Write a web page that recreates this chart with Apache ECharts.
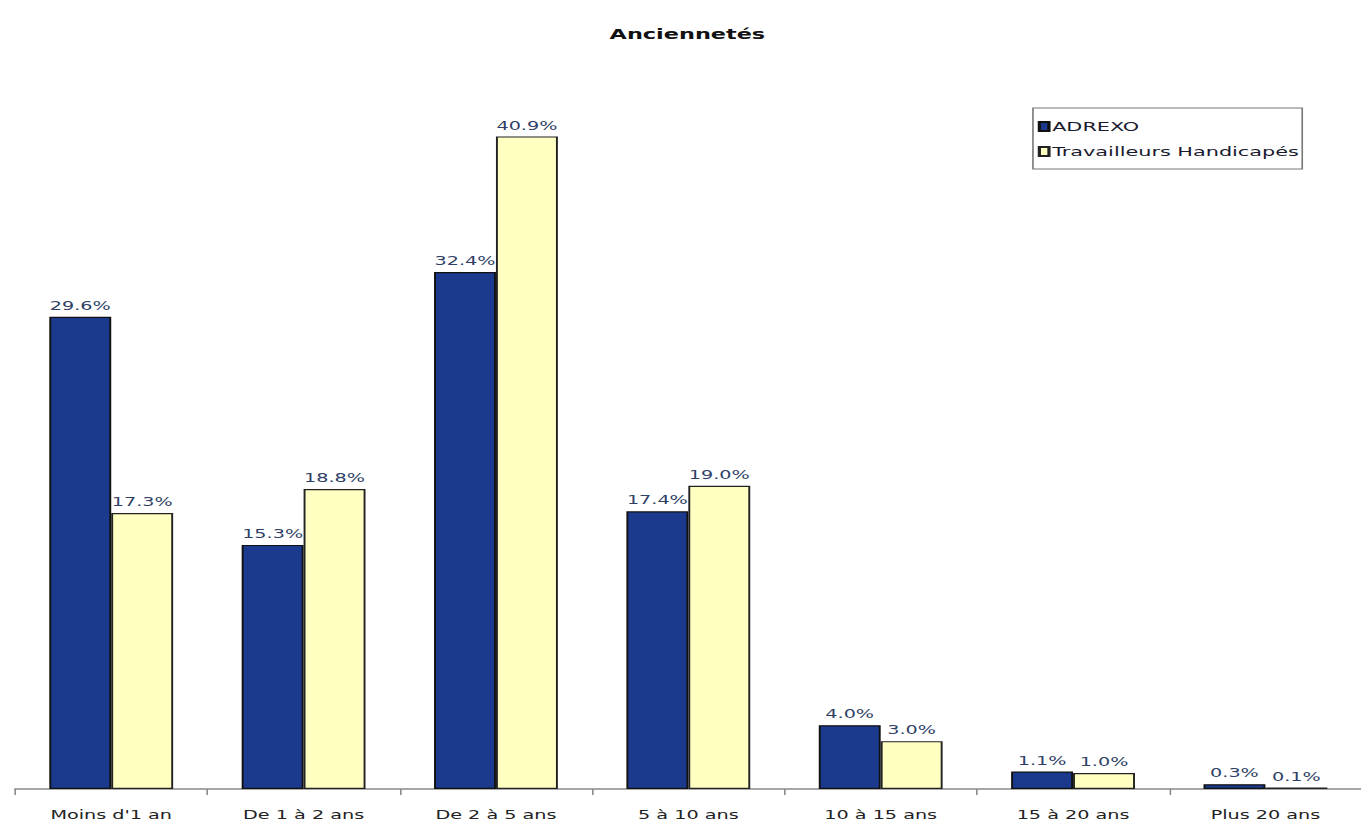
<!DOCTYPE html>
<html>
<head>
<meta charset="utf-8">
<script src="https://cdn.jsdelivr.net/npm/echarts@6/dist/echarts.min.js"></script>
<style>
  html, body { margin: 0; padding: 0; background: #fff; overflow: hidden; }
  /* the scanned original has its lettering stretched sideways; draw narrower and widen */
  #chart { width: 851px; height: 827px; transform: scaleX(1.6); transform-origin: 0 0; }
</style>
</head>
<body>
<div id="chart"></div>
<script>
// Anciennetés - ADREXO vs Travailleurs Handicapés
var categories = ['Moins d\'1 an', 'De 1 à 2 ans', 'De 2 à 5 ans', '5 à 10 ans', '10 à 15 ans', '15 à 20 ans', 'Plus 20 ans'];
var adrexo = [29.6, 15.3, 32.4, 17.4, 4.0, 1.1, 0.3];
var handicapes = [17.3, 18.8, 40.9, 19.0, 3.0, 1.0, 0.1];

var colors = {
  navy: '#1b3a8e',
  cream: '#ffffc2',
  ink: '#222222',
  label: '#2f3f66',
  rule: '#8a8a8a'
};

var chart = echarts.init(document.getElementById('chart'), null, { renderer: 'svg' });

function pctLabel(p) { return p.value.toFixed(1) + '%'; }

chart.setOption({
  animation: false,
  textStyle: { fontFamily: 'DejaVu Sans' },
  title: {
    text: 'Anciennetés',
    left: 376,
    top: 22,
    textStyle: { fontSize: 14, fontWeight: 'bold', color: '#111', fontFamily: 'DejaVu Sans' }
  },
  legend: {
    orient: 'vertical',
    left: 645.6,
    top: 108,
    padding: [12, 2, 11, 3],
    itemGap: 12,
    itemWidth: 6,
    itemHeight: 9,
    icon: 'rect',
    borderColor: '#777',
    borderWidth: 1,
    textStyle: { fontSize: 13, color: '#1a1a2e', padding: [0, 0, 0, -3] },
    data: ['ADREXO', 'Travailleurs Handicapés']
  },
  grid: { left: 9.4, right: -4, top: 71, bottom: 38, containLabel: false },
  xAxis: {
    type: 'category',
    data: categories,
    axisLine: { lineStyle: { color: colors.rule, width: 1.5 } },
    axisTick: { show: true, length: 6, lineStyle: { color: colors.rule } },
    axisLabel: { fontSize: 12, color: colors.ink, margin: 20 }
  },
  yAxis: {
    type: 'value',
    min: 0,
    max: 45,
    show: false,
    splitLine: { show: false }
  },
  series: [
    {
      name: 'ADREXO',
      type: 'bar',
      data: adrexo,
      barWidth: 38.7,
      barGap: '0%',
      itemStyle: { color: colors.navy, borderColor: '#111', borderWidth: 1.2 },
      label: { show: true, position: 'top', distance: 5, fontSize: 12, color: colors.label, formatter: pctLabel }
    },
    {
      name: 'Travailleurs Handicapés',
      type: 'bar',
      data: handicapes,
      barWidth: 38.7,
      itemStyle: { color: colors.cream, borderColor: '#222', borderWidth: 1.2 },
      label: { show: true, position: 'top', distance: 5, fontSize: 12, color: colors.label, formatter: pctLabel }
    }
  ]
});
</script>
</body>
</html>
